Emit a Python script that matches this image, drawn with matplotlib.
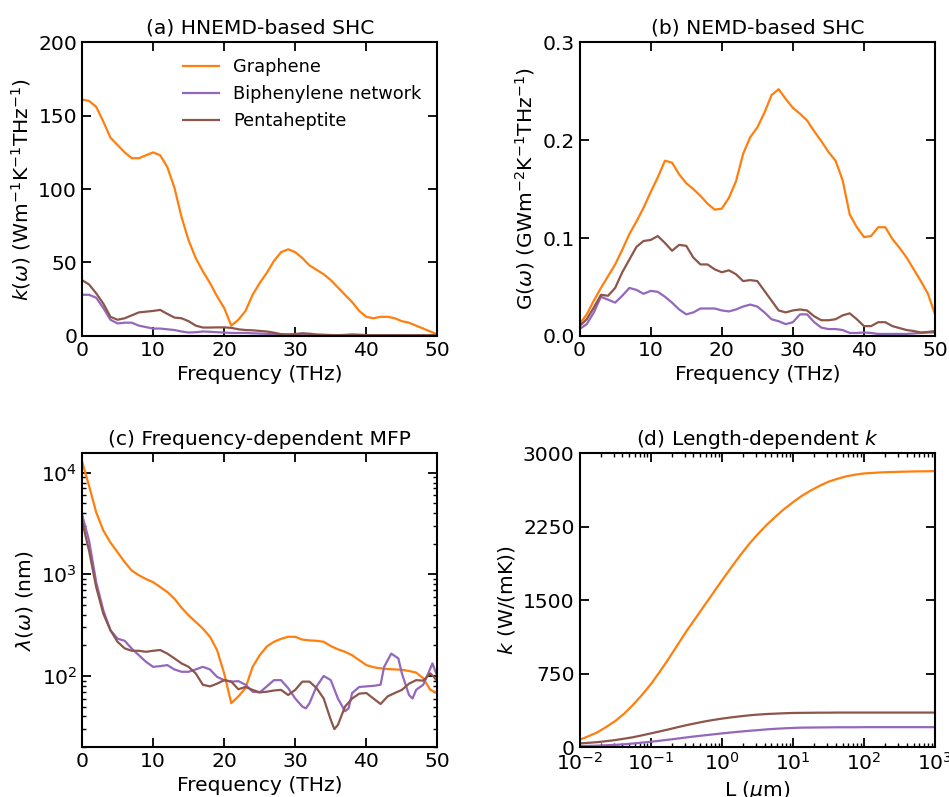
import numpy as np
import matplotlib
matplotlib.use("Agg")
import matplotlib.pyplot as plt
from matplotlib.ticker import LogLocator, NullFormatter

plt.rcParams["font.family"] = ["DejaVu Sans"]
plt.rcParams["mathtext.fontset"] = "dejavusans"
FS = 14.6
plt.rcParams["font.size"] = FS

C_GR = "#ff7f0e"
C_BP = "#9467bd"
C_PH = "#8c564b"
LABELS = ["Graphene", "Biphenylene network", "Pentaheptite"]

# ---- (a) HNEMD spectral thermal conductivity, W m^-1 K^-1 THz^-1
freq_a = list(range(0, 51))
kw_graphene = [161, 160, 156, 146, 135, 130, 125, 121, 121, 123, 125, 123, 115, 101, 81,
               65, 53, 44, 36, 27, 19, 7, 11, 17, 28, 36, 43, 51, 57, 59,
               57, 53, 48, 45, 42, 38, 33, 28, 23, 17, 13, 12, 13, 13, 12,
               10, 9, 7, 5, 3, 1]
kw_biphenylene = [28, 28, 26, 19, 11, 8.5, 9, 9, 7, 6, 5, 5, 4.5, 4, 3,
                  2.3, 2.5, 3, 2.8, 2.5, 2.3, 2, 2, 2, 1.8, 1.6, 1.4, 1.2, 1, 0.8,
                  0.6, 0.5, 0.5, 0.5, 0.5, 0.5, 0.5, 0.4, 0.4, 0.4, 0.4, 0.4, 0.4, 0.4, 0.4,
                  0.3, 0.3, 0.3, 0.3, 0.3, 0.3]
kw_pentaheptite = [38, 35, 29, 22, 13, 11, 12, 14, 16, 16.5, 17, 17.7, 15, 12.5, 12,
                   10, 7, 5.7, 5.7, 5.8, 5.8, 5.5, 4.5, 4, 3.8, 3.4, 3, 2.2, 1.2, 1,
                   1.3, 1.8, 1.5, 1, 0.8, 0.6, 0.5, 0.7, 1, 0.8, 0.6, 0.5, 0.5, 0.5, 0.5,
                   0.5, 0.5, 0.5, 0.5, 0.5, 0.5]

# ---- (b) NEMD spectral conductance, GW m^-2 K^-1 THz^-1
freq_b = list(range(0, 51))
gw_graphene = [0.012, 0.022, 0.036, 0.049, 0.061, 0.073, 0.088, 0.104, 0.117, 0.131,
               0.147, 0.162, 0.179, 0.177, 0.165, 0.156, 0.150, 0.143, 0.135, 0.129,
               0.130, 0.141, 0.158, 0.186, 0.203, 0.213, 0.228, 0.246, 0.252, 0.242,
               0.233, 0.227, 0.220, 0.209, 0.199, 0.188, 0.179, 0.159, 0.124, 0.111,
               0.101, 0.102, 0.111, 0.111, 0.099, 0.090, 0.080, 0.068, 0.056, 0.043, 0.022]
gw_biphenylene = [0.007, 0.012, 0.024, 0.040, 0.037, 0.034, 0.041, 0.049, 0.047, 0.043,
                  0.046, 0.045, 0.040, 0.034, 0.027, 0.022, 0.024, 0.028, 0.028, 0.028,
                  0.026, 0.025, 0.027, 0.030, 0.032, 0.030, 0.024, 0.017, 0.015, 0.012,
                  0.014, 0.022, 0.022, 0.014, 0.0085, 0.007, 0.007, 0.006, 0.003, 0.003,
                  0.0035, 0.003, 0.002, 0.002, 0.002, 0.002, 0.002, 0.0025, 0.003, 0.0035, 0.0035]
gw_pentaheptite = [0.010, 0.017, 0.029, 0.042, 0.041, 0.049, 0.065, 0.078, 0.091, 0.097,
                   0.098, 0.102, 0.095, 0.087, 0.093, 0.092, 0.080, 0.073, 0.073, 0.068,
                   0.065, 0.067, 0.063, 0.056, 0.057, 0.056, 0.046, 0.036, 0.026, 0.024,
                   0.026, 0.027, 0.026, 0.020, 0.016, 0.016, 0.017, 0.021, 0.023, 0.017,
                   0.010, 0.010, 0.014, 0.014, 0.010, 0.008, 0.006, 0.005, 0.0035, 0.004, 0.005]

# ---- (c) frequency-dependent mean free path, nm
freq_c_gr = list(range(0, 51))
mfp_graphene = [13000, 7400, 4070, 2700, 2060, 1650, 1320, 1090, 980, 900,
                838, 750, 670, 576, 470, 395, 340, 293, 243, 180,
                106, 54, 63, 76, 123, 160, 195, 217, 232, 243,
                243, 228, 224, 222, 217, 197, 183, 173, 160, 143,
                128, 122, 119, 117, 116, 115, 112, 108, 95, 73, 68]
freq_c_bp = [0, 1, 2, 3, 4, 5, 6, 7, 8, 9, 10, 11, 12, 13, 14, 15, 16, 17, 18, 19,
             20, 21, 22, 23, 24, 25, 26, 27, 28, 29, 30, 31, 31.5, 32, 33, 34, 35, 36,
             37, 37.5, 38, 39, 40, 41, 42, 42.5, 43.5, 44.5, 45, 46, 46.5, 47, 48,
             48.5, 49.3, 50]
mfp_biphenylene = [3900, 2140, 836, 443, 282, 233, 222, 186, 160, 138, 123, 125, 128,
                   116, 110, 110, 116, 123, 116, 98, 91, 88, 89, 82, 70, 69, 79, 91,
                   91, 76, 60, 50, 48, 54, 79, 100, 91, 60, 45, 48, 68, 78, 79, 80, 82,
                   123, 166, 149, 106, 65, 60, 73, 82, 98, 133, 98]
freq_c_ph = [0, 1, 2, 3, 4, 5, 6, 7, 8, 9, 10, 11, 12, 13, 14, 15, 16, 17, 18, 19,
             20, 21, 22, 23, 24, 25, 26, 27, 28, 29, 30, 31, 32, 33, 34, 35, 35.5, 36,
             37, 38, 39, 40, 41, 42, 43, 44, 45, 46, 47, 48, 49, 49.5, 50]
mfp_pentaheptite = [3360, 1700, 748, 410, 282, 217, 187, 177, 177, 173, 177, 180, 166,
                    149, 133, 123, 106, 82, 79, 84, 91, 88, 74, 78, 73, 69, 70, 72, 73,
                    65, 73, 88, 88, 76, 60, 37, 30, 33, 50, 60, 67, 68, 60, 53, 63, 68,
                    73, 84, 91, 90, 106, 98, 88]

# ---- (d) length-dependent thermal conductivity, W/(mK)
length_um = [0.01, 0.0133, 0.0178, 0.0237, 0.0316, 0.0422, 0.0562, 0.075,
             0.1, 0.133, 0.178, 0.237, 0.316, 0.422, 0.562, 0.75,
             1.0, 1.33, 1.78, 2.37, 3.16, 4.22, 5.62, 7.5,
             10, 13.3, 17.8, 23.7, 31.6, 42.2, 56.2, 75,
             100, 178, 316, 562, 1000]
kL_graphene = [75, 110, 150, 205, 265, 340, 430, 530,
               640, 765, 900, 1040, 1180, 1310, 1440, 1570,
               1700, 1825, 1950, 2065, 2170, 2265, 2350, 2430,
               2500, 2565, 2620, 2668, 2710, 2740, 2765, 2782,
               2795, 2806, 2812, 2816, 2818]
kL_biphenylene = [10, 12, 14, 18, 22, 28, 36, 45,
                  54, 64, 75, 86, 98, 109, 119, 129,
                  139, 148, 157, 165, 172, 180, 186, 191,
                  195, 198, 199, 200, 201, 202, 202, 202,
                  203, 203, 203, 203, 203]
kL_pentaheptite = [37, 43, 50, 60, 71, 85, 100, 119,
                   139, 159, 180, 202, 223, 242, 260, 276,
                   290, 302, 313, 323, 331, 337, 341, 345,
                   348, 349, 350, 351, 351, 352, 352, 352,
                   352, 352, 352, 352, 352]

fig, axes = plt.subplots(2, 2, figsize=(9.49, 7.97), dpi=100)
fig.subplots_adjust(left=0.0864, right=0.9853, bottom=0.0627, top=0.947,
                    wspace=0.40, hspace=0.40)
ax_a, ax_b, ax_c, ax_d = axes.ravel()

LW = 1.6


def style(ax):
    for s in ax.spines.values():
        s.set_linewidth(1.5)
    ax.tick_params(which="major", direction="in", top=True, right=True,
                   length=6.5, width=1.3, labelsize=FS)
    ax.tick_params(which="minor", direction="in", top=True, right=True,
                   length=3, width=1.0)


# (a)
ax_a.plot(freq_a, kw_graphene, color=C_GR, lw=LW, label=LABELS[0])
ax_a.plot(freq_a, kw_biphenylene, color=C_BP, lw=LW, label=LABELS[1])
ax_a.plot(freq_a, kw_pentaheptite, color=C_PH, lw=LW, label=LABELS[2])
ax_a.set_xlim(0, 50)
ax_a.set_ylim(0, 200)
ax_a.set_xticks([0, 10, 20, 30, 40, 50])
ax_a.set_yticks([0, 50, 100, 150, 200])
ax_a.set_xlabel("Frequency (THz)")
ax_a.set_ylabel(r"$k(\omega)$ (Wm$^{-1}$K$^{-1}$THz$^{-1}$)")
ax_a.set_title("(a) HNEMD-based SHC", fontsize=FS)
ax_a.legend(loc="upper right", frameon=False, fontsize=12.8)
style(ax_a)

# (b)
ax_b.plot(freq_b, gw_graphene, color=C_GR, lw=LW)
ax_b.plot(freq_b, gw_biphenylene, color=C_BP, lw=LW)
ax_b.plot(freq_b, gw_pentaheptite, color=C_PH, lw=LW)
ax_b.set_xlim(0, 50)
ax_b.set_ylim(0, 0.3)
ax_b.set_xticks([0, 10, 20, 30, 40, 50])
ax_b.set_yticks([0.0, 0.1, 0.2, 0.3])
ax_b.set_xlabel("Frequency (THz)")
ax_b.set_ylabel(r"G($\omega$) (GWm$^{-2}$K$^{-1}$THz$^{-1}$)")
ax_b.set_title("(b) NEMD-based SHC", fontsize=FS)
style(ax_b)

# (c)
ax_c.plot(freq_c_gr, mfp_graphene, color=C_GR, lw=LW)
ax_c.plot(freq_c_bp, mfp_biphenylene, color=C_BP, lw=LW)
ax_c.plot(freq_c_ph, mfp_pentaheptite, color=C_PH, lw=LW)
ax_c.set_yscale("log")
ax_c.set_xlim(0, 50)
ax_c.set_ylim(20, 1.55e4)
ax_c.set_xticks([0, 10, 20, 30, 40, 50])
ax_c.set_yticks([1e2, 1e3, 1e4])
ax_c.yaxis.set_minor_locator(LogLocator(base=10, subs=np.arange(2, 10), numticks=20))
ax_c.yaxis.set_minor_formatter(NullFormatter())
ax_c.set_xlabel("Frequency (THz)")
ax_c.set_ylabel(r"$\lambda(\omega)$ (nm)")
ax_c.set_title("(c) Frequency-dependent MFP", fontsize=FS)
style(ax_c)

# (d)
ax_d.plot(length_um, kL_graphene, color=C_GR, lw=LW)
ax_d.plot(length_um, kL_biphenylene, color=C_BP, lw=LW)
ax_d.plot(length_um, kL_pentaheptite, color=C_PH, lw=LW)
ax_d.set_xscale("log")
ax_d.set_xlim(1e-2, 1e3)
ax_d.set_ylim(0, 3000)
ax_d.set_xticks([1e-2, 1e-1, 1e0, 1e1, 1e2, 1e3])
ax_d.xaxis.set_minor_locator(LogLocator(base=10, subs=np.arange(2, 10), numticks=20))
ax_d.xaxis.set_minor_formatter(NullFormatter())
ax_d.set_yticks([0, 750, 1500, 2250, 3000])
ax_d.set_xlabel(r"L ($\mu$m)")
ax_d.set_ylabel(r"$k$ (W/(mK))")
ax_d.set_title(r"(d) Length-dependent $k$", fontsize=FS)
style(ax_d)

fig.savefig("out.png", dpi=100)
